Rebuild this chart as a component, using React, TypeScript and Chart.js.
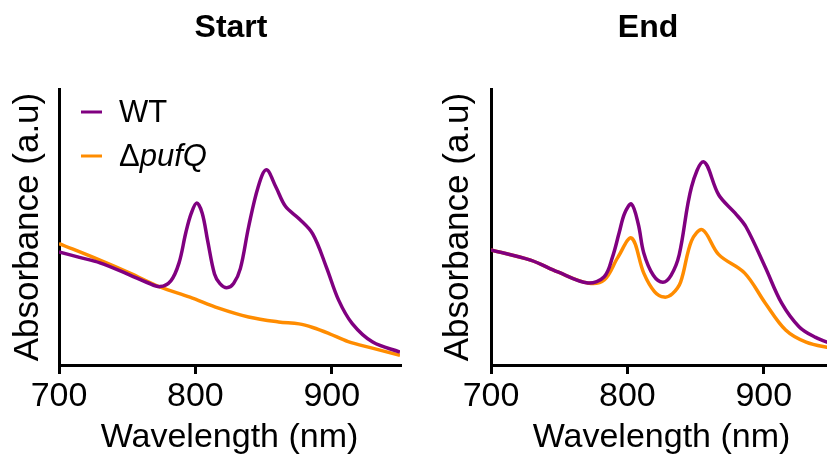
import React, { useEffect, useRef } from 'react';
import { Chart, registerables } from 'chart.js';

Chart.register(...registerables);

// ---- Data ----
const xTicks = [700, 800, 900];
const xMin = 700;
const xMax = 950;

// Start panel
const startWTnm = [700, 715, 730, 752, 765, 774, 782, 788, 793, 797, 801, 805, 809, 814, 818, 823, 828, 833, 839, 846, 852, 859, 866, 876, 886, 896, 905, 915, 930, 950];
const startWTabs = [41, 39, 37, 32.6, 29.8, 28.4, 30.5, 37, 48, 55, 58.7, 55, 45, 33, 29.5, 28, 29.5, 35, 50, 64.5, 70.7, 64.5, 57.5, 53, 47.5, 35.5, 23.5, 15, 8.3, 4.7];
const startKOnm = [700, 730, 752, 774, 796, 817, 839, 861, 876, 886, 898, 912, 929, 950];
const startKOabs = [44, 38, 33.3, 28.3, 24.6, 20.6, 17.4, 15.6, 14.9, 13.6, 11.4, 8.5, 6.2, 3.5];

// End panel
const endWTnm = [700, 729, 749, 771, 783, 789, 794, 798, 803, 808, 812, 819, 826, 832, 838, 847, 856, 867, 879, 887, 901, 913, 926, 938, 950];
const endWTabs = [41.7, 38, 33.7, 29.7, 32, 39, 48, 55, 58.3, 51, 40.6, 32.5, 30, 32.5, 40, 64.5, 73.6, 61.6, 55, 50, 35.5, 22.5, 13.8, 10, 7.6];
const endKOnm = [700, 729, 749, 771, 783, 793, 803, 812, 820, 827, 833, 839, 847, 855, 867, 886, 901, 916, 931, 950];
const endKOabs = [41.7, 38, 33.7, 29.7, 30.8, 39, 46, 33.3, 26.5, 24.6, 25.8, 30, 45, 49, 40, 33.3, 22.5, 12.7, 8.3, 6];

const legendLabels = ['WT', 'ΔpufQ'];
const PURPLE = '#800080';
const ORANGE = '#ff8c00';
const FONT = "'Liberation Sans', Arial, Helvetica, sans-serif";

type Series = { label: string; nm: number[]; abs: number[]; color: string };

type PanelProps = {
  title: string;
  series: Series[];
  showLegend: boolean;
  left: number;
  width: number;
  plotLeft: number;
  plotRight: number;
  titleX: number;
};

const H = 456;
const PLOT_TOP = 89;
const PLOT_BOTTOM = 365;

function Panel({ title, series, showLegend, left, width, plotLeft, plotRight, titleX }: PanelProps) {
  const ref = useRef<HTMLCanvasElement>(null);
  useEffect(() => {
    const canvas = ref.current!;
    const decor = {
      id: 'decor',
      afterDraw(chart: any) {
        const ctx = chart.ctx as CanvasRenderingContext2D;
        ctx.save();
        ctx.fillStyle = '#000';
        ctx.textAlign = 'center';
        ctx.textBaseline = 'middle';
        ctx.font = `bold 32px ${FONT}`;
        ctx.fillText(title, titleX, 28);
        if (showLegend) {
          const colors = [PURPLE, ORANGE];
          const ys = [112, 156];
          ctx.lineWidth = 3;
          for (let i = 0; i < 2; i++) {
            ctx.strokeStyle = colors[i];
            ctx.beginPath();
            ctx.moveTo(81, ys[i]);
            ctx.lineTo(102, ys[i]);
            ctx.stroke();
          }
          ctx.textAlign = 'left';
          ctx.fillStyle = '#000';
          ctx.font = `31px ${FONT}`;
          ctx.fillText(legendLabels[0], 119, ys[0] + 1);
          const lab = legendLabels[1];
          const head = lab.slice(0, 1);
          const tail = lab.slice(1);
          ctx.fillText(head, 119, ys[1] + 1);
          const w = ctx.measureText(head).width;
          ctx.font = `italic 31px ${FONT}`;
          ctx.fillText(tail, 119 + w, ys[1] + 1);
        }
        ctx.restore();
      },
    };
    const chart = new Chart(canvas, {
      type: 'line',
      data: {
        datasets: series.map((s) => ({
          label: s.label,
          data: s.nm.map((x, i) => ({ x, y: s.abs[i] })),
          borderColor: s.color,
          backgroundColor: s.color,
          borderWidth: 3.5,
          pointRadius: 0,
          tension: 0.35,
          fill: false,
        })),
      },
      options: {
        responsive: false,
        animation: false,
        devicePixelRatio: 1,
        layout: { padding: { left: 0, right: width - plotRight, top: PLOT_TOP, bottom: 0 } },
        plugins: {
          legend: { display: false },
          tooltip: { enabled: false },
          title: { display: false },
        },
        scales: {
          x: {
            type: 'linear',
            min: xMin,
            max: xMax,
            afterBuildTicks: (s: any) => {
              s.ticks = xTicks.map((v) => ({ value: v }));
            },
            afterFit: (s: any) => {
              s.height = H - PLOT_BOTTOM;
            },
            ticks: {
              font: { family: FONT, size: 34 },
              color: '#000',
              padding: 2,
              maxRotation: 0,
              autoSkip: false,
            },
            grid: { drawOnChartArea: false, drawTicks: true, tickLength: 9, color: '#000', lineWidth: 3 },
            border: { display: true, color: '#000', width: 3 },
            title: {
              display: true,
              text: 'Wavelength (nm)',
              color: '#000',
              font: { family: FONT, size: 34, lineHeight: 1 },
              padding: { top: 0, bottom: 1 },
            },
          },
          y: {
            min: 0,
            max: 100,
            ticks: { display: false },
            grid: { drawOnChartArea: false, drawTicks: false, color: '#000', lineWidth: 3 },
            border: { display: true, color: '#000', width: 3 },
            afterFit: (s: any) => {
              s.width = plotLeft;
            },
            title: {
              display: true,
              text: 'Absorbance (a.u)',
              color: '#000',
              font: { family: FONT, size: 35, lineHeight: 1.2 },
              padding: { top: 7, bottom: 0 },
            },
          },
        },
      },
      plugins: [decor],
    } as any);
    return () => chart.destroy();
  }, []);
  return (
    <canvas
      ref={ref}
      width={width}
      height={H}
      style={{ position: 'absolute', left, top: 0, width, height: H }}
    />
  );
}

export default function App() {
  const startSeries: Series[] = [
    { label: legendLabels[0], nm: startWTnm, abs: startWTabs, color: PURPLE },
    { label: legendLabels[1], nm: startKOnm, abs: startKOabs, color: ORANGE },
  ];
  const endSeries: Series[] = [
    { label: legendLabels[0], nm: endWTnm, abs: endWTabs, color: PURPLE },
    { label: legendLabels[1], nm: endKOnm, abs: endKOabs, color: ORANGE },
  ];
  return (
    <div
      style={{
        position: 'absolute',
        left: 0,
        top: 0,
        width: 827,
        height: 456,
        overflow: 'hidden',
        background: '#fff',
      }}
    >
      <Panel title="Start" series={startSeries} showLegend={true} left={0} width={430} plotLeft={59} plotRight={400} titleX={231} />
      <Panel title="End" series={endSeries} showLegend={false} left={430} width={430} plotLeft={61} plotRight={402} titleX={218} />
    </div>
  );
}
